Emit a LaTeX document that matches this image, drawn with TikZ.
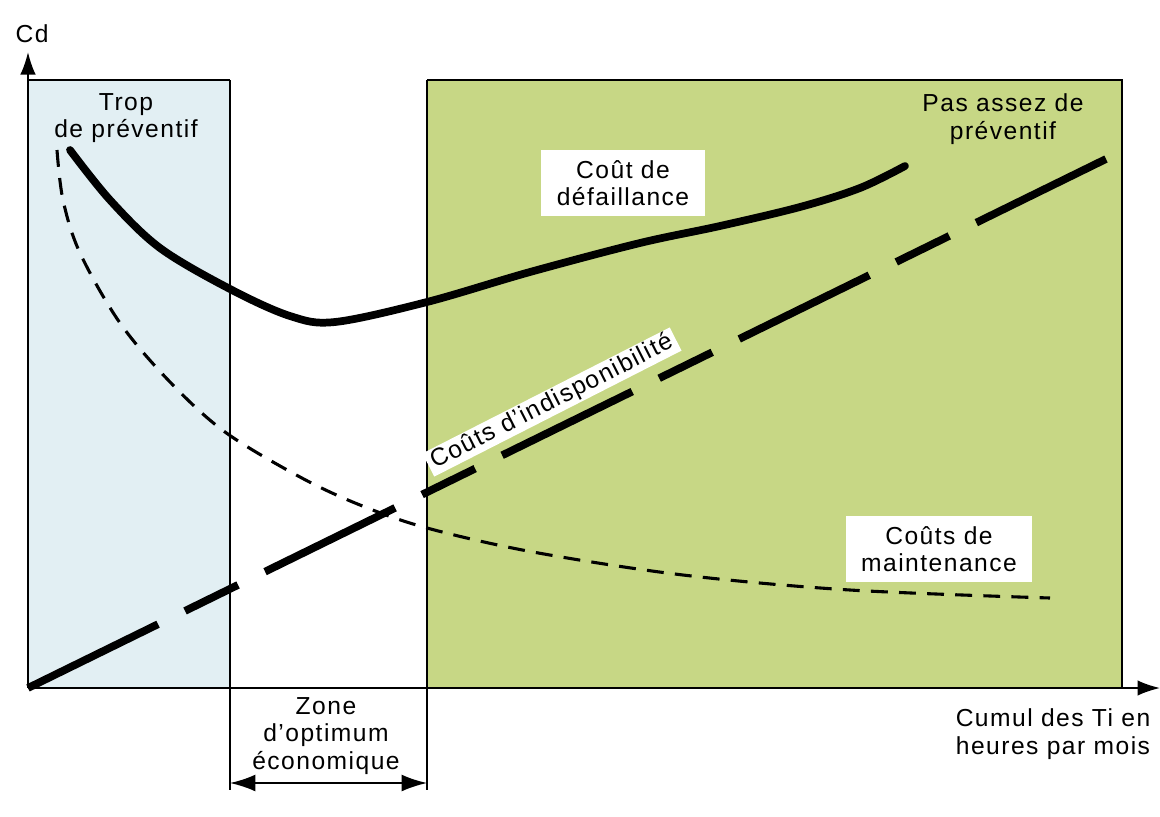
\documentclass[tikz,border=0pt]{standalone}
\usepackage{fontspec}
\setmainfont{Liberation Sans}[LetterSpace=6]
\usetikzlibrary{arrows.meta}
\definecolor{tropblue}{RGB}{226,239,243}
\definecolor{assezgreen}{RGB}{199,215,133}
\begin{document}
\begin{tikzpicture}
[x=0.025cm, y=-0.025cm,
  textdecorate/.style={font=\fontsize{17.5}{19.5}\selectfont, align=center},
  boxdecorate/.style={textdecorate, fill=white, inner xsep=11pt, inner ysep=7pt},
  axisdecorate/.style={-{Latex[length=16pt,width=11pt]}, line width=1.3pt},
  borderdecorate/.style={line width=1.2pt},
  defdecorate/.style={line width=5.5pt, line cap=round, line join=round},
  indispdecorate/.style={line width=5.5pt, dash pattern=on 103pt off 21.4pt on 42pt off 21.4pt},
  maintdecorate/.style={line width=2.2pt, dash pattern=on 12pt off 8pt}]
\useasboundingbox (0,0) rectangle (1160,817);
%% zones
\fill[tropblue] (28,80) rectangle (230,688);
\fill[assezgreen] (427,80) rectangle (1122,688);
\draw[borderdecorate] (28,80) -- (230,80) (427,80) -- (1122,80) -- (1122,688);
\draw[borderdecorate] (230,80) -- (230,790) (427,80) -- (427,790);
%% axes
\coordinate (O) at (28,688);
\coordinate (ytop) at (28,52);
\coordinate (xend) at (1160,688);
\draw[axisdecorate] (O) -- (ytop);
\draw[axisdecorate] (O) -- (xend);
\coordinate (zl) at (230,783);
\coordinate (zr) at (427,783);
\draw[{Latex[length=18pt,width=12pt]}-{Latex[length=18pt,width=12pt]}, line width=1.3pt] (zl) -- (zr);
%% curves
\draw[maintdecorate] plot[smooth, tension=0.55] coordinates {(57,150) (63,200) (80,253) (120,323) (170,382) (225,432) (300,477) (360,505) (427,528) (533,552) (683,575) (850,590) (1050,598)};
\coordinate (indend) at (1106,159);
\draw[indispdecorate] (O) -- (indend);
\draw[defdecorate] plot[smooth, tension=0.55] coordinates {(70,150) (110,200) (160,248) (230,289) (290,316) (335,322) (427,302) (530,272) (640,243) (720,226) (800,207) (860,188) (905,166)};
%% labels
\foreach \nodename/\x/\y/\txt in {cd/32/34/Cd, trop/126/118/{Trop\\de préventif}, pas/1003/119/{Pas assez de\\préventif}, zone/326/736/{Zone\\d'optimum\\économique}, cumul/1053/734/{Cumul des Ti en\\heures par mois}} {
  \node (\nodename) at (\x,\y) [textdecorate] {\txt};
}
\node (def) at (623,183) [boxdecorate] {Coût de\\défaillance};
\node (maint) at (939,549) [boxdecorate] {Coûts de\\maintenance};
\node (indisp) at (552,402) [boxdecorate, rotate=27, inner xsep=3pt, inner ysep=1pt] {Coûts d'indisponibilité};
\end{tikzpicture}
\end{document}
